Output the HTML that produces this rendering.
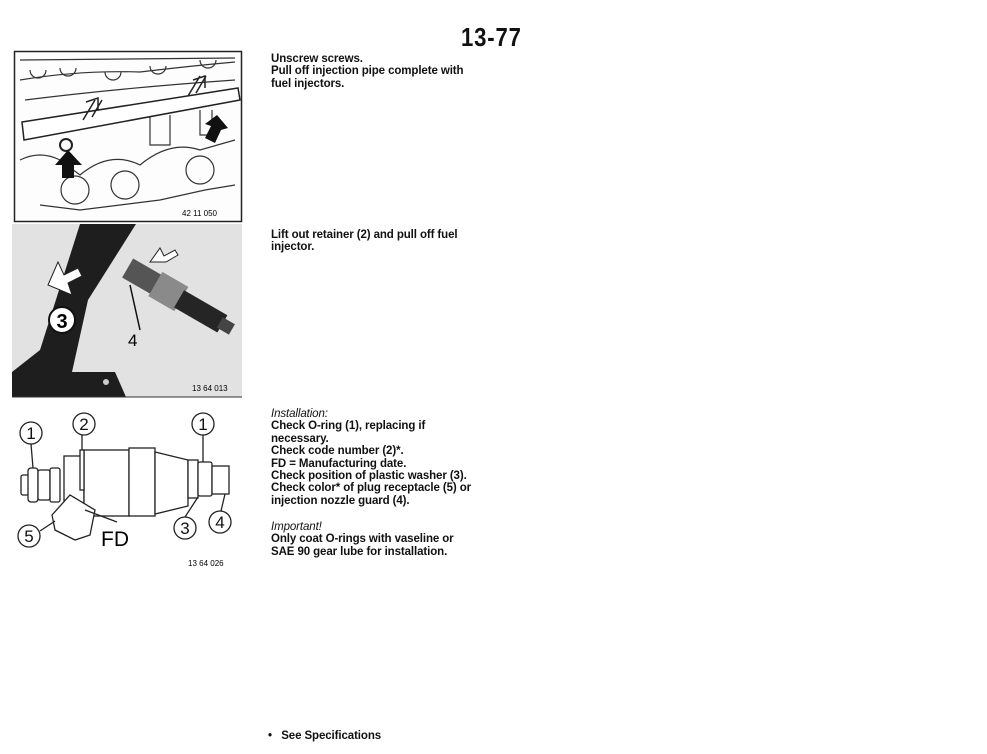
<!DOCTYPE html>
<html><head><meta charset="utf-8"><style>
body{margin:0;background:#fff;width:987px;height:754px;overflow:hidden;position:relative;font-family:"Liberation Sans",Arial,sans-serif;color:#111}
.t{position:absolute;left:271px;font-size:11.5px;font-weight:bold;line-height:12.4px;letter-spacing:-0.1px}
.i{font-style:italic;font-weight:normal}
</style></head><body>
<div style="position:absolute;left:461px;top:22px;font-size:26px;font-weight:bold;transform:scaleX(0.85);transform-origin:left;letter-spacing:1px">13-77</div>
<svg width="987" height="754" style="position:absolute;left:0;top:0">
<rect x="14.5" y="51.5" width="227" height="170" fill="#fdfdfd" stroke="#222" stroke-width="1.5"/>
<g fill="none" stroke="#333" stroke-width="1.2">
<path d="M20 60 L235 58 M20 80 Q80 70 140 72 Q190 66 235 62 M25 100 Q120 88 235 80"/>
<path d="M30 70 a8 8 0 1 0 16 0 M60 68 a8 8 0 1 0 16 0 M105 72 a8 8 0 1 0 16 0 M150 66 a8 8 0 1 0 16 0 M200 60 a8 8 0 1 0 16 0"/>
<path d="M20 160 Q40 150 60 160 L80 175 Q110 150 140 165 Q170 140 200 150 L235 140"/>
<circle cx="75" cy="190" r="14"/><circle cx="125" cy="185" r="14"/><circle cx="200" cy="170" r="14"/>
<path d="M40 205 L80 210 L120 205 L160 200 L205 190 L235 185"/>
<path d="M150 115 v30 h20 v-30 M200 110 v25 h12 v-25"/>
</g>
<polygon points="22,122 238,88 240,100 24,140" fill="#fff" stroke="#222" stroke-width="1.5"/>
<path d="M83 120 l12 -20 M92 117 l10 -17 M86 102 l12 -4 l0 12" stroke="#222" fill="none" stroke-width="1.5"/>
<path d="M188 96 l12 -20 M196 93 l10 -17 M193 80 l12 -4 l0 12" stroke="#222" fill="none" stroke-width="1.5"/>
<circle cx="66" cy="145" r="6" fill="none" stroke="#222" stroke-width="2"/>
<polygon points="68,150 82,165 74,165 74,178 62,178 62,165 55,165" fill="#111"/>
<polygon points="217,115 228,128 221,130 215,143 205,138 211,126 205,124" fill="#111"/>
<text x="182" y="216" font-size="8" font-family="Liberation Sans">42 11 050</text>
<rect x="12" y="224" width="230" height="173" fill="#e2e2e2"/>
<polygon points="80,224 136,224 88,300 72,372 115,372 126,397 12,397 12,372 40,350" fill="#1e1e1e"/>
<polygon points="48,285 58,262 64,275 78,268 82,276 68,283 72,295" fill="#fff" stroke="#222"/>
<polygon points="150,262 160,248 164,256 175,250 178,255 166,262" fill="#fff" stroke="#222"/>
<circle cx="62" cy="320" r="13" fill="#fff" stroke="#111" stroke-width="2"/>
<text x="62" y="328" font-size="20" font-family="Liberation Sans" text-anchor="middle" font-weight="bold">3</text>
<g transform="rotate(30 175 300)">
<rect x="118" y="285" width="35" height="22" fill="#555"/>
<rect x="150" y="282" width="30" height="28" fill="#8a8a8a"/>
<rect x="178" y="287" width="50" height="20" fill="#252525"/>
<rect x="225" y="291" width="14" height="12" fill="#444"/>
</g>
<path d="M130 285 L140 330" stroke="#111" stroke-width="1.5"/>
<text x="128" y="346" font-size="17" font-family="Liberation Sans">4</text>
<circle cx="106" cy="382" r="3" fill="#ccc"/>
<text x="192" y="391" font-size="8" font-family="Liberation Sans">13 64 013</text>
<line x1="12" y1="397" x2="242" y2="397" stroke="#333"/>
<g fill="#fff" stroke="#222" stroke-width="1.3">
<rect x="21" y="475" width="8" height="20" rx="2"/>
<rect x="28" y="468" width="10" height="34" rx="3"/>
<rect x="38" y="470" width="12" height="30" rx="2"/>
<rect x="50" y="468" width="10" height="34" rx="2"/>
<rect x="64" y="456" width="20" height="56"/>
<rect x="84" y="450" width="45" height="66"/>
<rect x="129" y="448" width="26" height="68"/>
<path d="M155 452 L188 460 L188 506 L155 514 Z"/>
<rect x="188" y="460" width="10" height="38"/>
<rect x="198" y="462" width="14" height="34" rx="2"/>
<rect x="212" y="466" width="17" height="28"/>
<rect x="80" y="450" width="4" height="40"/>
<polygon points="52,515 70,495 95,510 90,535 75,540 55,530"/>
</g>
<g fill="none" stroke="#222" stroke-width="1.3">
<circle cx="31" cy="433" r="11"/><circle cx="84" cy="424" r="11"/><circle cx="203" cy="424" r="11"/>
<circle cx="29" cy="536" r="11"/><circle cx="185" cy="528" r="11"/><circle cx="220" cy="522" r="11"/>
<path d="M31 444 L33 468 M82 435 L82 450 M203 435 L203 462 M40 531 L55 521 M85 510 L117 522 M185 517 L198 497 M221 511 L225 494"/>
</g>
<g font-family="Liberation Sans" font-size="17" text-anchor="middle" fill="#111">
<text x="31" y="439">1</text><text x="84" y="430">2</text><text x="203" y="430">1</text>
<text x="29" y="542">5</text><text x="185" y="534">3</text><text x="220" y="528">4</text>
</g>
<text x="101" y="546" font-size="21" font-family="Liberation Sans">FD</text>
<text x="188" y="566" font-size="8" font-family="Liberation Sans">13 64 026</text>
</svg>
<div class="t" style="top:53px">Unscrew screws.<br>Pull off injection pipe complete with<br>fuel injectors.</div>
<div class="t" style="top:229px">Lift out retainer (2) and pull off fuel<br>injector.</div>
<div class="t" style="top:408px"><span class="i">Installation:</span><br>Check O-ring (1), replacing if<br>necessary.<br>Check code number (2)*.<br>FD = Manufacturing date.<br>Check position of plastic washer (3).<br>Check color* of plug receptacle (5) or<br>injection nozzle guard (4).</div>
<div class="t" style="top:521px"><span class="i">Important!</span><br>Only coat O-rings with vaseline or<br>SAE 90 gear lube for installation.</div>
<div class="t" style="top:730px;left:268px">•&nbsp;&nbsp; See Specifications</div>
</body></html>
